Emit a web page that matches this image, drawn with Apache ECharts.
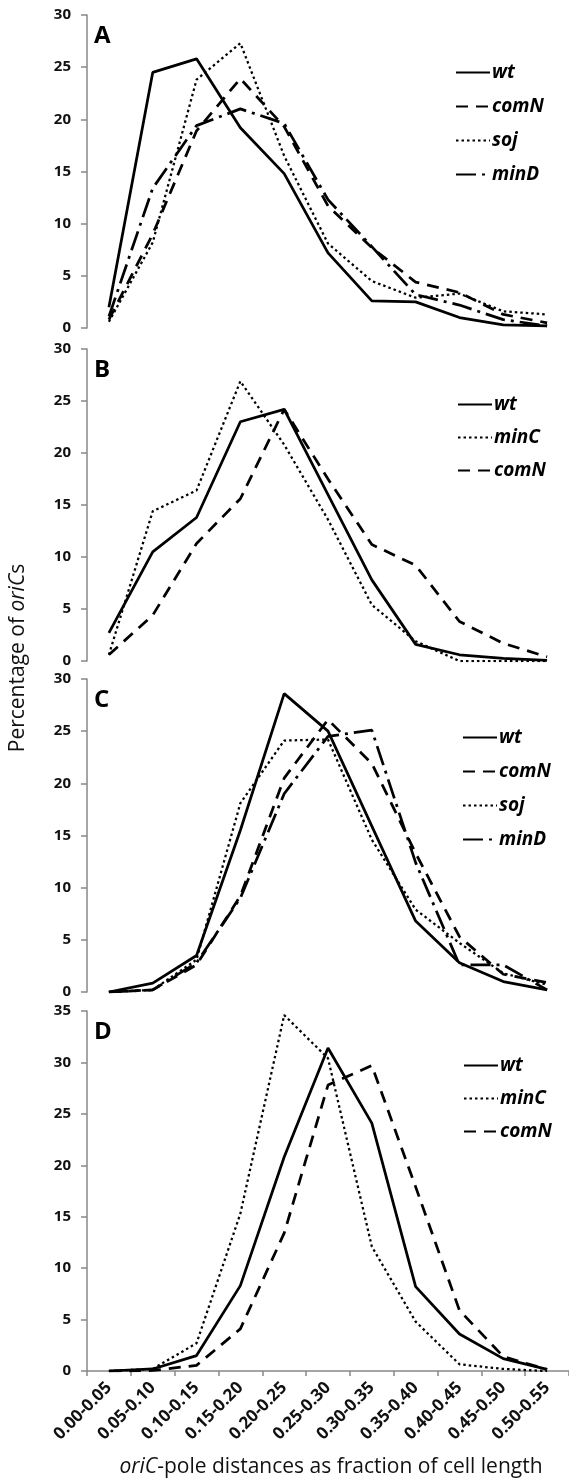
<!DOCTYPE html>
<html>
<head>
<meta charset="utf-8">
<script src="https://cdn.jsdelivr.net/npm/echarts@6/dist/echarts.min.js"></script>
<style>
  html, body { margin: 0; padding: 0; background: #fff; }
  #chart { width: 569px; height: 1478px; }
</style>
</head>
<body>
<div id="chart"></div>
<script>
// distance classes (fraction of cell length)
var categories = ['0.00-0.05', '0.05-0.10', '0.10-0.15', '0.15-0.20', '0.20-0.25', '0.25-0.30',
                  '0.30-0.35', '0.35-0.40', '0.40-0.45', '0.45-0.50', '0.50-0.55'];

// panel A
var wtA   = [2.0, 24.5, 25.8, 19.2, 14.8, 7.2, 2.6, 2.5, 1.0, 0.3, 0.2];
var comNA = [0.8, 9.0, 18.9, 23.9, 19.3, 11.7, 7.7, 4.4, 3.4, 1.3, 0.5];
var sojA  = [0.6, 8.2, 23.8, 27.3, 16.5, 8.1, 4.5, 2.9, 3.3, 1.6, 1.3];
var minDA = [1.1, 13.4, 19.4, 21.0, 19.6, 12.3, 7.8, 3.2, 2.2, 0.8, 0.2];

// panel B
var wtB   = [2.7, 10.5, 13.8, 23.0, 24.2, 16.0, 7.8, 1.6, 0.6, 0.25, 0.05];
var minCB = [0.6, 14.4, 16.4, 26.9, 20.8, 13.6, 5.4, 1.9, 0.0, 0.0, 0.0];
var comNB = [0.6, 4.4, 11.3, 15.6, 24.2, 17.5, 11.2, 9.2, 3.8, 1.7, 0.4];

// panel C
var wtC   = [0, 0.85, 3.5, 15.5, 28.6, 25.0, 15.9, 6.8, 2.8, 1.0, 0.2];
var comNC = [0, 0.2, 2.6, 9.2, 20.5, 26.1, 21.9, 13.3, 5.3, 1.7, 0.9];
var sojC  = [0, 0.2, 3.1, 18.1, 24.1, 24.2, 14.6, 7.9, 4.7, 1.8, 0.7];
var minDC = [0, 0.2, 2.8, 9.0, 19.0, 24.5, 25.1, 12.4, 2.6, 2.6, 0.2];

// panel D
var wtD   = [0, 0.2, 1.5, 8.3, 20.8, 31.4, 24.1, 8.2, 3.6, 1.2, 0.15];
var minCD = [0, 0.2, 2.7, 15.3, 34.6, 30.4, 12.1, 4.8, 0.65, 0.2, 0];
var comND = [0, 0.05, 0.55, 4.1, 13.4, 27.8, 29.7, 17.9, 5.9, 1.4, 0.15];

var yMax = [30, 30, 30, 35];
var panelLetters = ['A', 'B', 'C', 'D'];

var FONT = '"Open Sans", "Noto Sans", sans-serif';

// line look per strain (same in every panel)
var lineLook = {
    wt:   { type: 'solid', width: 2.75 },
    comN: { type: [12, 8], width: 2.75 },
    soj:  { type: [2.5, 3], width: 2.25 },
    minC: { type: [2.5, 3], width: 2.25 },
    minD: { type: [20, 6, 3, 6], width: 2.75 }
};

window.buildChart = function () {
    var chartDom = document.getElementById('chart');
    var myChart = echarts.init(chartDom, null, { renderer: 'canvas' });

    // plot areas (px)
    var grids = [
        { left: 87, top: 15, width: 484, height: 313 },
        { left: 87, top: 349, width: 484, height: 312 },
        { left: 87, top: 679, width: 484, height: 313 },
        { left: 87, top: 1011, width: 484, height: 360 }
    ];

    var panels = [
        [['wt', wtA], ['comN', comNA], ['soj', sojA], ['minD', minDA]],
        [['wt', wtB], ['minC', minCB], ['comN', comNB]],
        [['wt', wtC], ['comN', comNC], ['soj', sojC], ['minD', minDC]],
        [['wt', wtD], ['minC', minCD], ['comN', comND]]
    ];

    var legendPos = [
        { left: 455, top: 63, gap: 15 },
        { left: 457, top: 395, gap: 14 },
        { left: 462, top: 728, gap: 15 },
        { left: 463, top: 1056, gap: 14 }
    ];

    var xAxis = [], yAxis = [], series = [], legend = [], graphic = [];

    grids.forEach(function (g, i) {
        var last = i === 3;
        xAxis.push({
            gridIndex: i,
            type: 'category',
            data: categories,
            show: last,
            boundaryGap: true,
            axisLine: { show: true, lineStyle: { color: '#888', width: 1.5 } },
            axisTick: { show: true, length: 5, lineStyle: { color: '#888', width: 1.5 } },
            axisLabel: {
                interval: 0, rotate: 45, margin: 14,
                fontFamily: FONT, fontSize: 17, fontWeight: 'bold', color: '#111'
            },
            splitLine: { show: false }
        });
        yAxis.push({
            gridIndex: i,
            type: 'value',
            min: 0, max: yMax[i], interval: 5,
            axisLine: { show: true, lineStyle: { color: '#888', width: 1.5 } },
            axisTick: { show: true, length: 6, lineStyle: { color: '#888', width: 1.5 } },
            axisLabel: { margin: 16, fontFamily: FONT, fontSize: 15, fontWeight: 'bold', color: '#111' },
            splitLine: { show: false }
        });

        panels[i].forEach(function (p) {
            series.push({
                name: p[0],
                type: 'line',
                xAxisIndex: i,
                yAxisIndex: i,
                data: p[1],
                symbol: 'none',
                lineStyle: { color: '#000', width: lineLook[p[0]].width, type: lineLook[p[0]].type },
                itemStyle: { color: '#000' },
                z: 3
            });
        });

        legend.push({
            orient: 'vertical',
            left: legendPos[i].left,
            top: legendPos[i].top,
            itemWidth: 34,
            itemHeight: 14,
            itemGap: legendPos[i].gap,
            padding: 0,
            selectedMode: false,
            itemStyle: { opacity: 0 },
            data: panels[i].map(function (p) { return p[0]; }),
            textStyle: {
                fontFamily: FONT, fontSize: 19, fontWeight: 'bold', fontStyle: 'italic',
                color: '#000', lineHeight: 14, padding: [0, 0, 0, -3]
            }
        });

        // panel letter
        graphic.push({
            type: 'text',
            x: 94,
            y: g.top + 21,
            style: {
                text: panelLetters[i],
                fontFamily: FONT, fontSize: 24, fontWeight: 'bold',
                fill: '#000', align: 'left', verticalAlign: 'middle'
            }
        });
    });

    // shared axis titles
    graphic.push({
        type: 'text',
        x: 18,
        y: 658,
        rotation: Math.PI / 2,
        style: {
            text: 'Percentage of {i|oriC}s',
            fontFamily: FONT, fontSize: 21, fill: '#111',
            align: 'center', verticalAlign: 'middle',
            rich: { i: { fontFamily: FONT, fontSize: 21, fontStyle: 'italic', fill: '#111' } }
        }
    });
    graphic.push({
        type: 'text',
        x: 331,
        y: 1467,
        style: {
            text: '{i|oriC}-pole distances as fraction of cell length',
            fontFamily: FONT, fontSize: 21, fill: '#111',
            align: 'center', verticalAlign: 'middle',
            rich: { i: { fontFamily: FONT, fontSize: 21, fontStyle: 'italic', fill: '#111' } }
        }
    });

    var option = {
        animation: false,
        backgroundColor: '#fff',
        grid: grids,
        xAxis: xAxis,
        yAxis: yAxis,
        legend: legend,
        series: series,
        graphic: graphic
    };

    option && myChart.setOption(option);
}

window.buildChart();
</script>
</body>
</html>
